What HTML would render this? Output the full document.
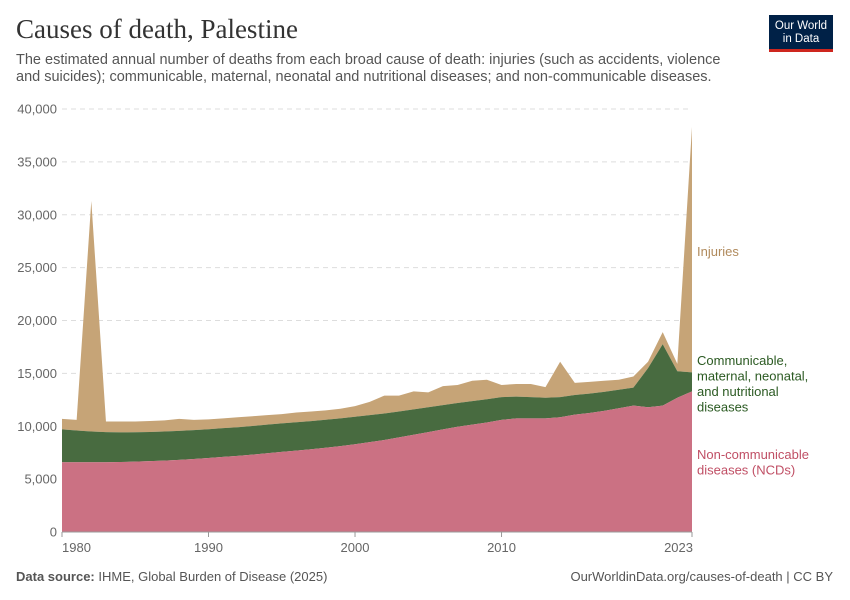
<!DOCTYPE html>
<html><head><meta charset="utf-8"><style>
body{margin:0;background:#fff;font-family:"Liberation Sans",sans-serif;}
#wrap{position:relative;width:850px;height:600px;overflow:hidden;}
.t{position:absolute;white-space:nowrap;}
</style></head><body>
<div id="wrap">
<div class="t" style="left:16px;top:14px;font-family:'Liberation Serif',serif;font-size:27px;color:#333;">Causes of death, Palestine</div>
<div class="t" style="left:16px;top:52px;font-size:14.5px;line-height:17px;color:#555;white-space:normal;width:720px;">The estimated annual number of deaths from each broad cause of death: injuries (such as accidents, violence and suicides); communicable, maternal, neonatal and nutritional diseases; and non-communicable diseases.</div>
<div style="position:absolute;left:769px;top:15px;width:64px;height:37px;background:#002147;border-bottom:3px solid #ce261e;box-sizing:border-box;color:#fff;font-size:11.5px;line-height:13px;text-align:center;padding-top:5px;">Our World<br>in Data</div>
<svg id="chart" width="850" height="600" style="position:absolute;left:0;top:0"></svg>
<div class="t" style="left:16px;top:569px;font-size:13px;color:#555;"><b>Data source:</b> IHME, Global Burden of Disease (2025)</div>
<div class="t" style="right:17px;top:569px;font-size:13px;color:#555;">OurWorldinData.org/causes-of-death | CC BY</div>
</div>
<script>
const years=[];for(let y=1980;y<=2023;y++)years.push(y);
const ncd=[6600,6600,6600,6600,6620,6650,6700,6750,6820,6900,7000,7100,7200,7320,7450,7580,7700,7830,7970,8120,8300,8500,8700,8950,9200,9450,9700,9950,10150,10350,10600,10750,10750,10750,10850,11100,11250,11450,11700,11950,11800,11950,12700,13300];
const comm=[3100,3000,2900,2850,2800,2780,2760,2750,2740,2730,2720,2720,2710,2700,2700,2690,2680,2660,2640,2620,2600,2550,2500,2450,2400,2350,2300,2250,2230,2200,2150,2050,2000,1950,1900,1850,1830,1800,1750,1700,3700,5800,2500,1800];
const inj=[1000,1000,21800,1000,1030,1020,1040,1050,1140,970,930,930,940,930,900,880,920,910,890,910,1000,1250,1700,1500,1700,1400,1800,1700,1920,1850,1150,1200,1250,1000,3350,1150,1120,1050,950,1050,600,1150,700,23200];
const yTicks=[0,5000,10000,15000,20000,25000,30000,35000,40000];
const xTicks=[1980,1990,2000,2010,2023];
const X0=62,X1=692,Y0=532,Y1=109;
const xs=y=>X0+(y-1980)/(2023-1980)*(X1-X0);
const ys=v=>Y0-v/40000*(Y0-Y1);
const svg=document.getElementById('chart');
const NS='http://www.w3.org/2000/svg';
function mk(t,a){const e=document.createElementNS(NS,t);for(const k in a)e.setAttribute(k,a[k]);svg.appendChild(e);return e;}
yTicks.forEach(v=>{
 if(v>0){const g=mk('line',{x1:X0,x2:X1,y1:ys(v),y2:ys(v),stroke:'#ddd','stroke-dasharray':'5,4'});
 
 }
 const t=mk('text',{x:57,y:ys(v)+4.5,'text-anchor':'end','font-size':13,fill:'#666','font-family':'Liberation Sans'});
 t.textContent=v.toLocaleString('en-US');
 
 
});
const b1=ncd.map((v,i)=>v), b2=ncd.map((v,i)=>v+comm[i]), b3=b2.map((v,i)=>v+inj[i]);
function area(lo,hi,color,name){
 let d='M'+years.map((y,i)=>xs(y)+','+ys(hi[i])).join('L');
 for(let i=years.length-1;i>=0;i--)d+='L'+xs(years[i])+','+ys(lo?lo[i]:0);
 const p=mk('path',{d:d+'Z',fill:color});
 
 
}
area(b2,b3,'#c6a477','injuries-area');
area(b1,b2,'#486b40','communicable-area');
area(null,b1,'#cb7183','ncd-area');
const ax=mk('line',{x1:X0,x2:X1,y1:Y0,y2:Y0,stroke:'#999'});


xTicks.forEach((y,i)=>{
 const tk=mk('line',{x1:xs(y),x2:xs(y),y1:Y0,y2:Y0+5,stroke:'#999'});
 
 
 const anchor=i==0?'start':(i==xTicks.length-1?'end':'middle');
 const xx=i==0?X0:(i==xTicks.length-1?X1+1:xs(y));
 const t=mk('text',{x:xx,y:552,'text-anchor':anchor,'font-size':13,fill:'#666','font-family':'Liberation Sans'});
 t.textContent=y;
 
 
});
function lab(lines,y,color,name){
 const t=mk('text',{x:697,y:y,'font-size':13,fill:color,'font-family':'Liberation Sans'});
 lines.forEach((s,i)=>{const ts=document.createElementNS(NS,'tspan');ts.setAttribute('x',697);ts.setAttribute('dy',i?15.5:0);ts.textContent=s;t.appendChild(ts);});
 
 
}
lab(['Injuries'],256,'#b08a5c','legend-injuries');
lab(['Communicable,','maternal, neonatal,','and nutritional','diseases'],365,'#2b5a22','legend-communicable');
lab(['Non-communicable','diseases (NCDs)'],459,'#c04f65','legend-ncd');
</script>
</body></html>
